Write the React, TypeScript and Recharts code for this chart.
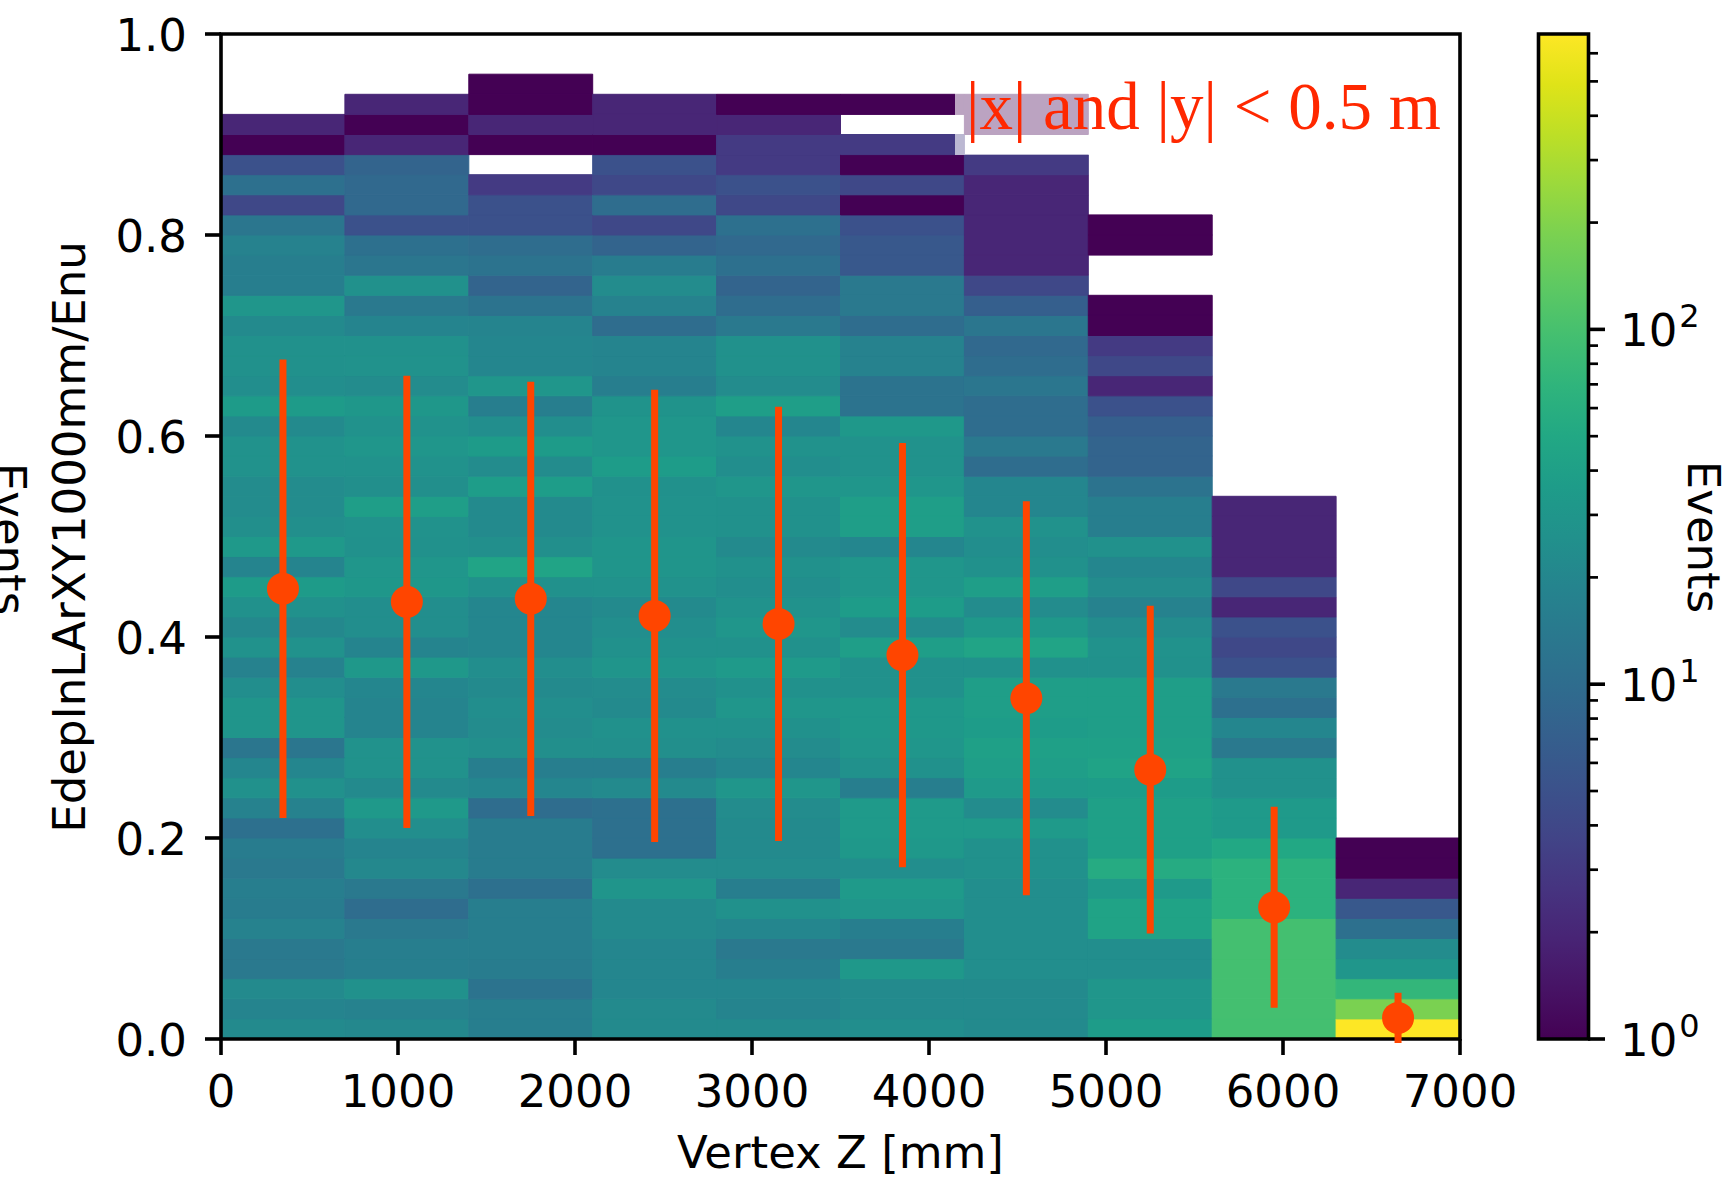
import React from 'react';
import { ComposedChart, XAxis, YAxis, Scatter, ErrorBar, ReferenceArea, Bar } from 'recharts';

// x bins (Vertex Z, mm) and y bins (0.02 wide, 50 rows from 0 to 1)
const xEdges = [0, 700, 1400, 2100, 2800, 3500, 4200, 4900, 5600, 6300, 7000];
const yRows = 50;
const xTicks = [0, 1000, 2000, 3000, 4000, 5000, 6000, 7000];
const yTicks = [0, 0.2, 0.4, 0.6, 0.8, 1.0];

// events per cell, one array per x bin, bottom row first
const bin0 = [22, 19, 22, 14, 14, 18, 15, 16, 14, 15, 11, 18, 26, 20, 13, 29, 29, 24, 18, 27, 21, 26, 35, 19, 33, 25, 23, 23, 27, 27, 22, 35, 24, 26, 26, 22, 30, 16, 16, 18, 13, 4, 11, 5, 1, 2];
const bin1 = [21, 18, 26, 16, 16, 14, 10, 14, 21, 19, 24, 33, 22, 27, 27, 19, 19, 20, 32, 19, 24, 24, 31, 30, 26, 27, 38, 25, 27, 30, 27, 31, 23, 27, 26, 19, 14, 26, 13, 11, 5, 9, 9, 8, 2, 1, 2];
const bin2 = [16, 16, 12, 15, 16, 16, 16, 11, 15, 15, 15, 10, 20, 16, 25, 23, 24, 22, 24, 20, 20, 20, 26, 45, 25, 22, 22, 37, 23, 35, 24, 16, 30, 20, 20, 19, 12, 8, 12, 10, 5, 5, 3, 0, 1, 2, 1, 1];
const bin3 = [22, 22, 20, 20, 20, 22, 22, 29, 23, 11, 11, 11, 22, 16, 25, 26, 22, 23, 29, 26, 24, 22, 27, 29, 29, 27, 27, 26, 36, 30, 30, 28, 16, 19, 19, 10, 18, 23, 15, 8, 4, 10, 4, 5, 1, 2, 2];
const bin4 = [22, 19, 20, 16, 14, 20, 26, 16, 23, 22, 22, 23, 30, 20, 23, 26, 30, 26, 34, 26, 30, 27, 24, 26, 22, 26, 26, 30, 24, 27, 20, 38, 23, 26, 26, 14, 10, 8, 11, 9, 11, 4, 5, 3, 3, 2, 1];
const bin5 = [24, 22, 22, 32, 14, 16, 30, 34, 24, 32, 34, 34, 16, 26, 30, 32, 32, 26, 26, 38, 23, 36, 30, 30, 20, 38, 38, 30, 27, 27, 32, 12, 12, 18, 18, 10, 14, 14, 6, 6, 5, 1, 4, 1, 3, 0, 1];
const bin6 = [22, 22, 22, 24, 24, 24, 24, 24, 26, 26, 34, 23, 34, 38, 40, 36, 38, 38, 26, 45, 32, 23, 38, 26, 24, 27, 20, 20, 10, 14, 10, 10, 13, 10, 9, 13, 7, 4, 2, 2, 2, 2, 2, 3, 0, 1, 1];
const bin7 = [36, 30, 30, 24, 24, 44, 44, 34, 55, 40, 40, 40, 36, 44, 40, 38, 38, 38, 26, 27, 23, 18, 23, 20, 26, 16, 16, 12, 8, 8, 7, 5, 2, 4, 3, 1, 1, 0, 0, 1, 1];
const bin8 = [96, 96, 96, 96, 96, 96, 65, 65, 65, 50, 34, 34, 26, 26, 14, 20, 11, 14, 5, 4, 5, 2, 4, 2, 2, 2, 2];
const bin9 = [680, 184, 74, 30, 23, 11, 6, 2, 1, 1];
const binCounts = [bin0, bin1, bin2, bin3, bin4, bin5, bin6, bin7, bin8, bin9];

// profile: mean and spread per x bin
const profileX = [350, 1050, 1750, 2450, 3150, 3850, 4550, 5250, 5950, 6650];
const profileMean = [0.448, 0.435, 0.438, 0.421, 0.413, 0.382, 0.339, 0.268, 0.131, 0.021];
const profileErr = [0.228, 0.225, 0.216, 0.225, 0.216, 0.211, 0.196, 0.163, 0.100, 0.025];

// colorbar
const cbarMax = 680;
const cbarMajor = [1, 10, 100];
const cbarMinor = [2, 3, 4, 5, 6, 7, 8, 9, 20, 30, 40, 50, 60, 70, 80, 90, 200, 300, 400, 500, 600];
const cbarData = [{ name: 'Events', span: 1 }];

const VIRIDIS = ['#440154', '#471365', '#482475', '#463480', '#414487', '#3b528b', '#355f8d', '#2f6c8e', '#2a788e', '#25848e', '#21918c', '#1e9c89', '#22a884', '#2fb47c', '#44bf70', '#5ec962', '#7ad151', '#9bd93c', '#bddf26', '#dfe318', '#fde725'];

const hex = (h: string) => [1, 3, 5].map(k => parseInt(h.slice(k, k + 2), 16));

function viridis(t: number) {
  const s = Math.min(Math.max(t, 0), 1) * (VIRIDIS.length - 1);
  const i = Math.min(Math.floor(s), VIRIDIS.length - 2);
  const f = s - i;
  const a = hex(VIRIDIS[i]);
  const b = hex(VIRIDIS[i + 1]);
  const c = a.map((v, k) => Math.round(v + (b[k] - v) * f));
  return `rgb(${c[0]},${c[1]},${c[2]})`;
}

const colorOf = (count: number) => viridis(Math.log10(count) / Math.log10(cbarMax));

const FONT = '"DejaVu Sans", sans-serif';
const ORANGE = '#ff4500';

const cells = binCounts.flatMap((col, i) => col.map((c, j) => ({ i, j, c }))).filter(d => d.c > 0);
const profile = profileX.map((x, i) => ({ x, y: profileMean[i], err: profileErr[i] }));

const XTick = (props: any) => (
  <text x={props.x} y={props.y} dy={32} textAnchor="middle" fontFamily={FONT} fontSize={45} fill="#000">
    {props.payload.value}
  </text>
);

const YTick = (props: any) => (
  <text x={props.x} y={props.y} dy={17} textAnchor="end" fontFamily={FONT} fontSize={45} fill="#000">
    {Number(props.payload.value).toFixed(1)}
  </text>
);

const CbarTick = (props: any) => {
  const v = props.payload.value;
  const major = cbarMajor.includes(v);
  return (
    <g>
      <line x1={props.x} x2={props.x + (major ? 17 : 10)} y1={props.y} y2={props.y} stroke="#000" strokeWidth={major ? 3.6 : 2.7} />
      {major && (
        <text x={props.x + 32} y={props.y} dy={17} fontFamily={FONT} fontSize={45} fill="#000">
          10
          <tspan dx={2} dy={-19} fontSize={32}>{Math.round(Math.log10(v))}</tspan>
        </text>
      )}
    </g>
  );
};

export default function App() {
  return (
    <div style={{ position: 'absolute', left: 0, top: 0, width: 1733, height: 1179, background: '#fff', overflow: 'hidden' }}>
      <svg width={0} height={0} style={{ position: 'absolute' }}>
        <defs>
          <linearGradient id="viridisBar" x1="0" y1="1" x2="0" y2="0">
            {VIRIDIS.map((c, i) => (
              <stop key={i} offset={i / (VIRIDIS.length - 1)} stopColor={c} />
            ))}
          </linearGradient>
        </defs>
      </svg>

      <div style={{ position: 'absolute', left: 0, top: 0 }}>
        <ComposedChart width={1560} height={1179} margin={{ top: 34, right: 100, bottom: 80, left: 100 }}>
          <XAxis
            type="number"
            dataKey="x"
            domain={[0, 7000]}
            ticks={xTicks}
            interval={0}
            allowDataOverflow
            height={60}
            axisLine={false}
            tickSize={16}
            tickMargin={20}
            tickLine={{ stroke: '#000', strokeWidth: 3.6 }}
            tick={<XTick />}
          />
          <YAxis
            type="number"
            domain={[0, 1]}
            ticks={yTicks}
            interval={0}
            allowDataOverflow
            width={121}
            axisLine={false}
            tickSize={16}
            tickMargin={18}
            tickLine={{ stroke: '#000', strokeWidth: 3.6 }}
            tick={<YTick />}
          />
          {cells.map(d => {
            const col = colorOf(d.c);
            return (
              <ReferenceArea
                key={`c${d.i}-${d.j}`}
                x1={xEdges[d.i]}
                x2={xEdges[d.i + 1]}
                y1={d.j / yRows}
                y2={(d.j + 1) / yRows}
                fill={col}
                fillOpacity={1}
                stroke={col}
                strokeWidth={1}
                ifOverflow="visible"
              />
            );
          })}
          <ReferenceArea x1={0} x2={7000} y1={0} y2={1} fill="none" stroke="#000" strokeWidth={3.6} ifOverflow="visible" />
          <Scatter
            data={profile}
            dataKey="y"
            isAnimationActive={false}
            shape={(p: any) => <circle cx={p.cx} cy={p.cy} r={16} fill={ORANGE} />}
          >
            <ErrorBar dataKey="err" direction="y" width={0} stroke={ORANGE} strokeWidth={7} isAnimationActive={false} />
          </Scatter>
        </ComposedChart>
      </div>

      <div style={{ position: 'absolute', left: 1500, top: 0 }}>
        <ComposedChart data={cbarData} width={233} height={1179} barCategoryGap={0} margin={{ top: 34, right: 5, bottom: 140, left: 38.5 }}>
          <XAxis type="category" dataKey="name" hide />
          <YAxis yAxisId="lin" type="number" domain={[0, 1]} hide />
          <YAxis
            yAxisId="log"
            orientation="right"
            type="number"
            scale="log"
            domain={[1, cbarMax]}
            allowDataOverflow
            ticks={[...cbarMajor, ...cbarMinor]}
            interval={0}
            width={140}
            axisLine={false}
            tickLine={false}
            tickSize={0}
            tickMargin={0}
            tick={<CbarTick />}
          />
          <Bar
            yAxisId="lin"
            dataKey="span"
            fill="url(#viridisBar)"
            stroke="#000"
            strokeWidth={3.6}
            isAnimationActive={false}
          />
        </ComposedChart>
      </div>

      <svg width={1733} height={1179} style={{ position: 'absolute', left: 0, top: 0, pointerEvents: 'none' }}>
        <text x={85} y={537} transform="rotate(-90 85 537)" textAnchor="middle" fontFamily={FONT} fontSize={45} fill="#000">
          EdepInLArXY1000mm/Enu
        </text>
        <text x={-6} y={539} transform="rotate(90 -6 539)" textAnchor="middle" fontFamily={FONT} fontSize={45} fill="#000">
          Events
        </text>
        <text x={840.5} y={1168} textAnchor="middle" fontFamily={FONT} fontSize={45} fill="#000">
          Vertex Z [mm]
        </text>
        <text x={1688} y={537} transform="rotate(90 1688 537)" textAnchor="middle" fontFamily={FONT} fontSize={45} fill="#000">
          Events
        </text>
        <rect x={955} y={70} width={497} height={85} fill="#fff" fillOpacity={0.64} />
        <text x={966} y={129} fontFamily='"Liberation Serif", "Times New Roman", serif' fontSize={67} fill="#ff2800">
          {'|x| and |y| < 0.5 m'}
        </text>
      </svg>
    </div>
  );
}
